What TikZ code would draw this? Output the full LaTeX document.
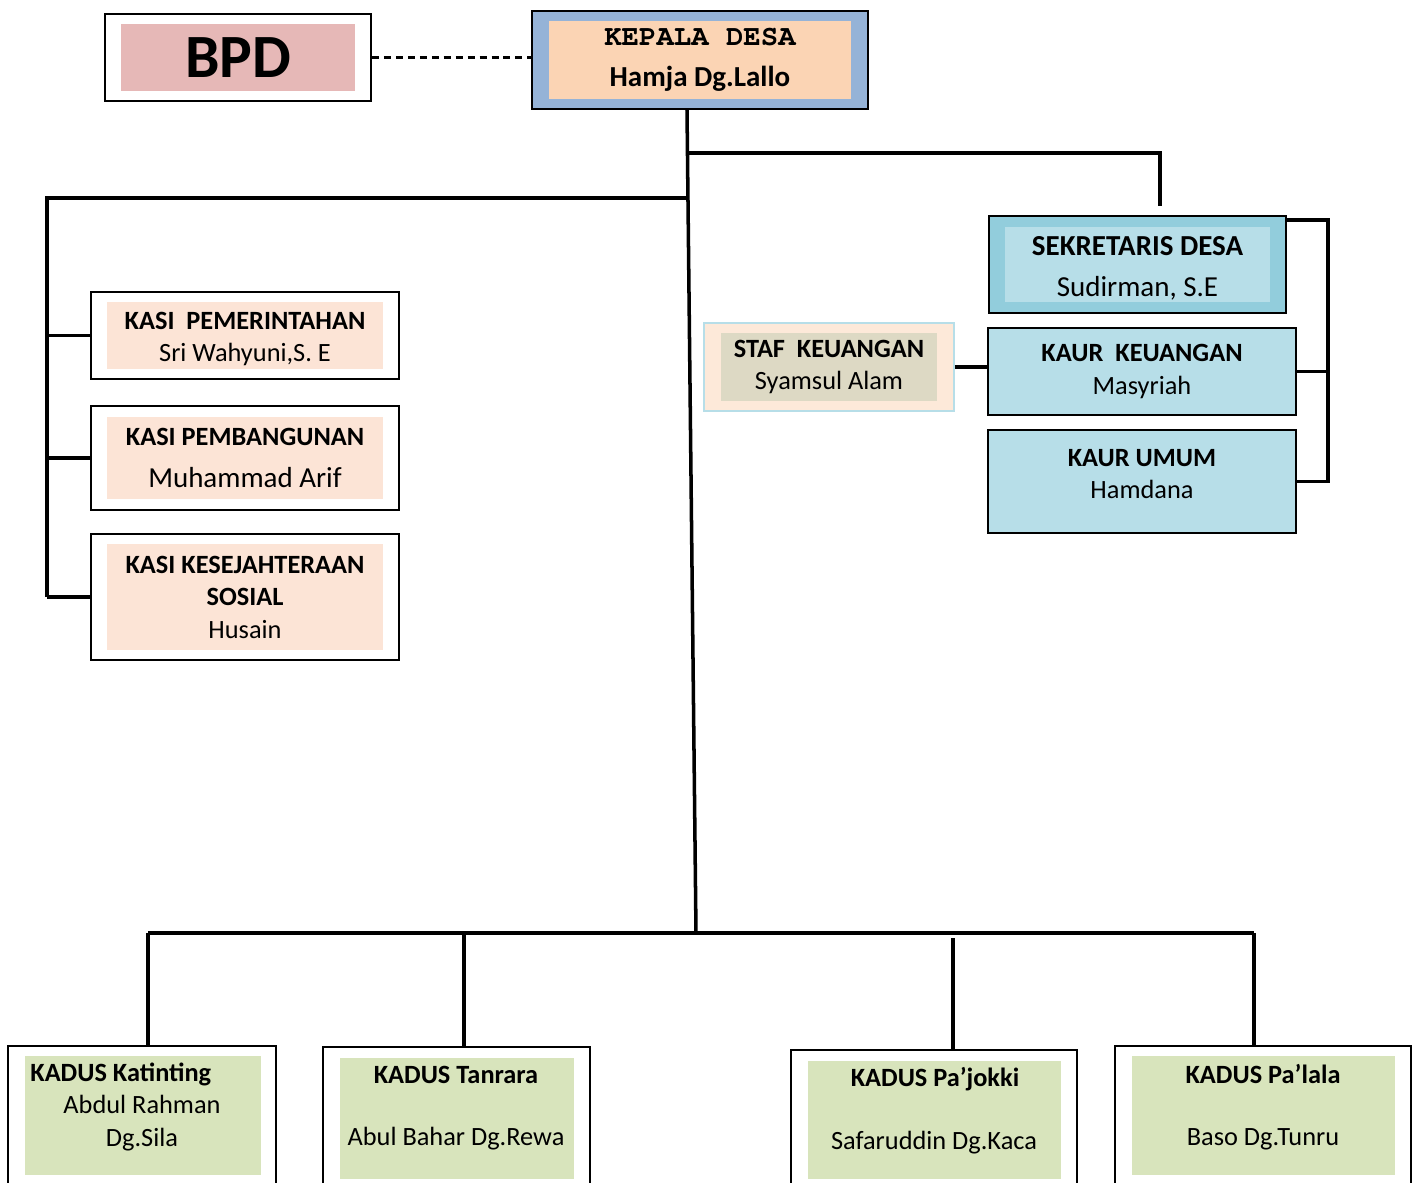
\documentclass[tikz,border=0pt]{standalone}
\usepackage{fontspec}
\setmainfont{Carlito}
\newfontfamily\typefont{TeX Gyre Cursor}
\usepackage{tikz}
\usetikzlibrary{positioning}
\definecolor{bpdpink}{HTML}{E6B8B7}
\definecolor{kadesblue}{HTML}{95B3D7}
\definecolor{kadespeach}{HTML}{FBD4B4}
\definecolor{kasipeach}{HTML}{FCE4D6}
\definecolor{sekblue}{HTML}{92CDDC}
\definecolor{kaurblue}{HTML}{B7DEE8}
\definecolor{stafpeach}{HTML}{FDE9D9}
\definecolor{stafkhaki}{HTML}{DDD9C4}
\definecolor{kadusgreen}{HTML}{D8E4BC}

\begin{document}
\begin{tikzpicture}[
  x=0.02cm, y=-0.02cm,
  outbox/.style={draw, line width=1.2pt, fill=white, inner sep=0pt},
  inbox/.style={inner sep=0pt, align=center, font=\fontsize{15}{18.5}\selectfont},
  kaur/.style={draw, line width=1.2pt, fill=kaurblue, inner sep=0pt, align=center, minimum width=6.16cm, font=\fontsize{15}{18.5}\selectfont},
  txt/.style={inner sep=0pt, align=center, font=\fontsize{15}{18.5}\selectfont},
  conn/.style={line width=2pt}
]
\useasboundingbox[fill=white] (0,0) rectangle (1421,1183);

% Top: BPD and Kepala Desa
\node[outbox, minimum width=5.32cm, minimum height=1.74cm] (bpd) at (238,57.5) {};
\node[inbox, fill=bpdpink, minimum width=4.68cm, minimum height=1.34cm, font=\fontsize{35}{40}\selectfont\bfseries] (bpdin) at (bpd) {BPD};
\node[outbox, fill=kadesblue, minimum width=6.72cm, minimum height=1.96cm] (kades) at (700,60) {};
\node[inbox, fill=kadespeach, minimum width=6.06cm, minimum height=1.56cm, font=\fontsize{16.5}{23}\selectfont] (kadesin) at (kades) {{\typefont\bfseries KEPALA DESA}\\{\bfseries Hamja Dg.Lallo}};

% Kasi (left column)
\node[outbox, minimum width=6.16cm, minimum height=1.74cm] (kasipem) at (245,335.5) {};
\node[inbox, fill=kasipeach, minimum width=5.52cm, minimum height=1.34cm] (kasipemin) at (kasipem) {};
\node[txt] (kasipemt) at (245,339) {\textbf{KASI\ \ PEMERINTAHAN}\\Sri Wahyuni,S. E};
\node[outbox, minimum width=6.16cm, minimum height=2.08cm] (kasibang) at (245,458) {};
\node[inbox, fill=kasipeach, minimum width=5.52cm, minimum height=1.64cm] (kasibangin) at (kasibang) {\textbf{KASI PEMBANGUNAN}\\[5pt]{\fontsize{16.5}{18.5}\selectfont Muhammad Arif}};
\node[outbox, minimum width=6.16cm, minimum height=2.52cm] (kasikesra) at (245,597) {};
\node[inbox, fill=kasipeach, minimum width=5.52cm, minimum height=2.12cm] (kasikesrain) at (kasikesra) {\textbf{KASI KESEJAHTERAAN}\\\textbf{SOSIAL}\\Husain};

% Sekretariat (right column)
\node[outbox, fill=sekblue, minimum width=5.94cm, minimum height=1.94cm] (sekdes) at (1137.5,264.5) {};
\node[inbox, fill=kaurblue, minimum width=5.3cm, minimum height=1.5cm] (sekdesin) at (sekdes) {};
\node[txt, font=\fontsize{16.5}{23}\selectfont] (sekdest) at (1137.5,268.5) {\textbf{SEKRETARIS DESA}\\Sudirman, S.E};
\node[kaur, minimum height=1.74cm] (kaurkeu) at (1142,371.5) {\textbf{KAUR\ \ KEUANGAN}\\Masyriah};
\node[kaur, minimum height=2.06cm] (kaurumum) at (1142,481.5) {\textbf{KAUR UMUM}\\Hamdana\\[-10pt]\mbox{}};
\node[outbox, draw=kaurblue, line width=1pt, fill=stafpeach, minimum width=5cm, minimum height=1.76cm] (staf) at (829,367) {};
\node[inbox, fill=stafkhaki, minimum width=4.34cm, minimum height=1.36cm] (stafin) at (staf) {\textbf{STAF\ \ KEUANGAN}\\Syamsul Alam};

% Kadus (bottom row)
\node[outbox, line width=1pt, minimum width=5.36cm, minimum height=2.98cm] (kadus1) at (142,1120.5) {};
\node[inbox, fill=kadusgreen, minimum width=4.72cm, minimum height=2.38cm] (kadus1in) at (143,1115.5) {};
\node[txt, anchor=west, font=\fontsize{15}{18.5}\selectfont\bfseries] (kadus1t) at (30,1074) {KADUS Katinting};
\node[txt] (kadus1n) at (142,1123) {Abdul Rahman\\Dg.Sila};

\node[outbox, line width=1pt, minimum width=5.34cm, minimum height=2.96cm] (kadus2) at (456.5,1121) {};
\node[inbox, fill=kadusgreen, minimum width=4.68cm, minimum height=2.42cm] (kadus2in) at (457,1118.5) {};
\node[txt, font=\fontsize{15}{18.5}\selectfont\bfseries] (kadus2t) at (456,1075) {KADUS Tanrara};
\node[txt] (kadus2n) at (456,1139) {Abul Bahar Dg.Rewa};

\node[outbox, line width=1pt, minimum width=5.72cm, minimum height=2.9cm] (kadus3) at (934,1122.5) {};
\node[inbox, fill=kadusgreen, minimum width=5.06cm, minimum height=2.36cm] (kadus3in) at (934.5,1120) {};
\node[txt, font=\fontsize{15}{18.5}\selectfont\bfseries] (kadus3t) at (935,1079) {KADUS Pa’jokki};
\node[txt] (kadus3n) at (934,1143) {Safaruddin Dg.Kaca};

\node[outbox, line width=1pt, minimum width=5.92cm, minimum height=2.98cm] (kadus4) at (1263,1120.5) {};
\node[inbox, fill=kadusgreen, minimum width=5.26cm, minimum height=2.38cm] (kadus4in) at (1263.5,1115.5) {};
\node[txt, font=\fontsize{15}{18.5}\selectfont\bfseries] (kadus4t) at (1263,1074) {KADUS Pa’lala};
\node[txt] (kadus4n) at (1263,1139) {Baso Dg.Tunru};

% Connectors
\coordinate (trunk) at (687,0);
\coordinate (lbus) at (47,198);
\coordinate (rbus) at (1160,153);
\coordinate (rbrk) at (1328,220);
\coordinate (busm) at (696,933);
\coordinate (d1) at (148,933);
\coordinate (d2) at (464,933);
\coordinate (d3) at (953,938);
\coordinate (d4) at (1254,933);

\draw[dashed, line width=1.2pt, dash pattern=on 4pt off 2.8pt] (bpd.east) -- (bpd.east -| kades.west);
\draw[conn] (kades.south -| trunk) -- (busm);
\draw[conn] (lbus -| trunk) -- (lbus) -- (lbus |- kasikesra.west);
\foreach \n in {kasipem,kasibang,kasikesra}
  \draw[conn] (lbus |- \n.west) -- (\n.west);
\draw[conn] (rbus -| trunk) -- (rbus) -- ++(0,53);
\draw[conn] (sekdes.east |- rbrk) -- (rbrk) -- (rbrk |- kaurumum.east) -- (kaurumum.east);
\draw[conn] (kaurkeu.east) -- (kaurkeu.east -| rbrk);
\draw[conn] (staf.east) -- (staf.east -| kaurkeu.west);
\draw[conn] (d1) -- (d4);
\foreach \i in {1,...,4}
  \draw[conn] (d\i) -- (d\i |- kadus\i.north);

\end{tikzpicture}
\end{document}
